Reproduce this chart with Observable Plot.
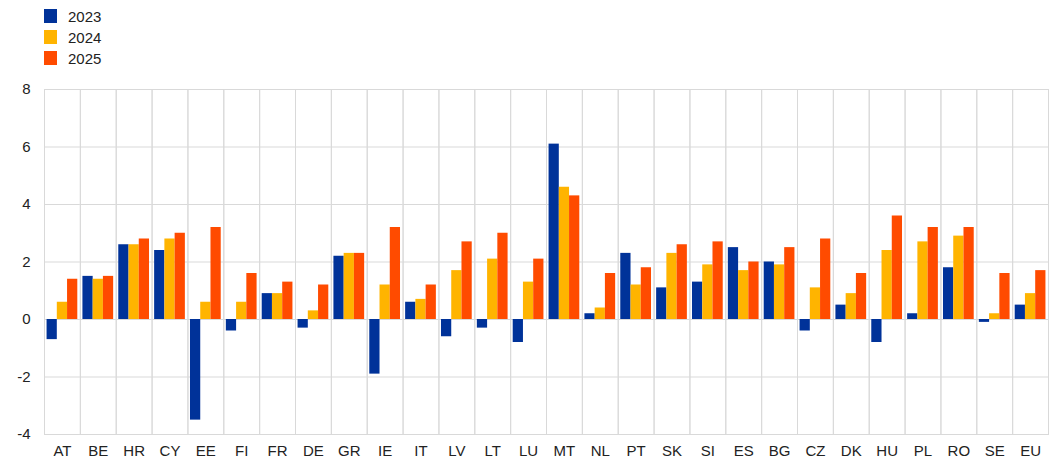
<!DOCTYPE html>
<html>
<head>
<meta charset="utf-8">
<script src="https://cdn.jsdelivr.net/npm/d3@7"></script>
<script src="https://cdn.jsdelivr.net/npm/@observablehq/plot@0.6"></script>
<style>
  html, body { margin: 0; padding: 0; background: #fff; }
  body { width: 1053px; height: 464px; overflow: hidden; font-family: "Liberation Sans", Arial, sans-serif; }
  #legend { height: 70px; position: relative; }
  .item { position: absolute; left: 44px; height: 16px; display: flex; align-items: center; font-size: 15px; color: #222; }
  .sw { width: 13px; height: 14px; margin-right: 11px; }
</style>
</head>
<body>
<div id="legend"></div>
<div id="chart"></div>
<script>
const countries = ["AT","BE","HR","CY","EE","FI","FR","DE","GR","IE","IT","LV","LT","LU","MT","NL","PT","SK","SI","ES","BG","CZ","DK","HU","PL","RO","SE","EU"];
const years = ["2023","2024","2025"];
const colors = ["#003299","#FFB400","#FF4B00"];
const v2023 = [-0.7,1.5,2.6,2.4,-3.5,-0.4,0.9,-0.3,2.2,-1.9,0.6,-0.6,-0.3,-0.8,6.1,0.2,2.3,1.1,1.3,2.5,2.0,-0.4,0.5,-0.8,0.2,1.8,-0.1,0.5];
const v2024 = [0.6,1.4,2.6,2.8,0.6,0.6,0.9,0.3,2.3,1.2,0.7,1.7,2.1,1.3,4.6,0.4,1.2,2.3,1.9,1.7,1.9,1.1,0.9,2.4,2.7,2.9,0.2,0.9];
const v2025 = [1.4,1.5,2.8,3.0,3.2,1.6,1.3,1.2,2.3,3.2,1.2,2.7,3.0,2.1,4.3,1.6,1.8,2.6,2.7,2.0,2.5,2.8,1.6,3.6,3.2,3.2,1.6,1.7];
const yTicks = [-4,-2,0,2,4,6,8];

const series = [v2023, v2024, v2025];
const data = [];
countries.forEach((c, i) => {
  years.forEach((y, j) => data.push({country: c, year: y, value: series[j][i]}));
});

// Legend
const legend = document.getElementById("legend");
years.forEach((y, j) => {
  const d = document.createElement("div");
  d.className = "item";
  d.style.top = (8 + j * 21) + "px";
  d.innerHTML = `<span class="sw" style="background:${colors[j]}"></span><span>${y}</span>`;
  legend.appendChild(d);
});

const chart = Plot.plot({
  width: 1053,
  height: 394,
  marginTop: 19,
  marginBottom: 30,
  marginLeft: 44,
  marginRight: 5,
  style: {fontFamily: "'Liberation Sans', Arial, sans-serif", fontSize: "15px", color: "#222", background: "#fff"},
  fx: {domain: countries, padding: 0, round: false, axis: "bottom", label: null, tickSize: 0, tickPadding: 11},
  x: {domain: years, axis: null, paddingInner: 0, paddingOuter: 0.25, round: false},
  y: {domain: [-4, 8], ticks: yTicks, tickSize: 0, tickPadding: 14, label: null, tickFormat: d => String(d)},
  color: {domain: years, range: colors},
  marks: [
    Plot.gridY(yTicks, {stroke: "#d9d9d9", strokeOpacity: 1, strokeWidth: 1}),
    Plot.frame({stroke: "#d9d9d9", strokeWidth: 1}),
    Plot.barY(data, {fx: "country", x: "year", y: "value", fill: "year"})
  ]
});
document.getElementById("chart").appendChild(chart);
</script>
</body>
</html>
